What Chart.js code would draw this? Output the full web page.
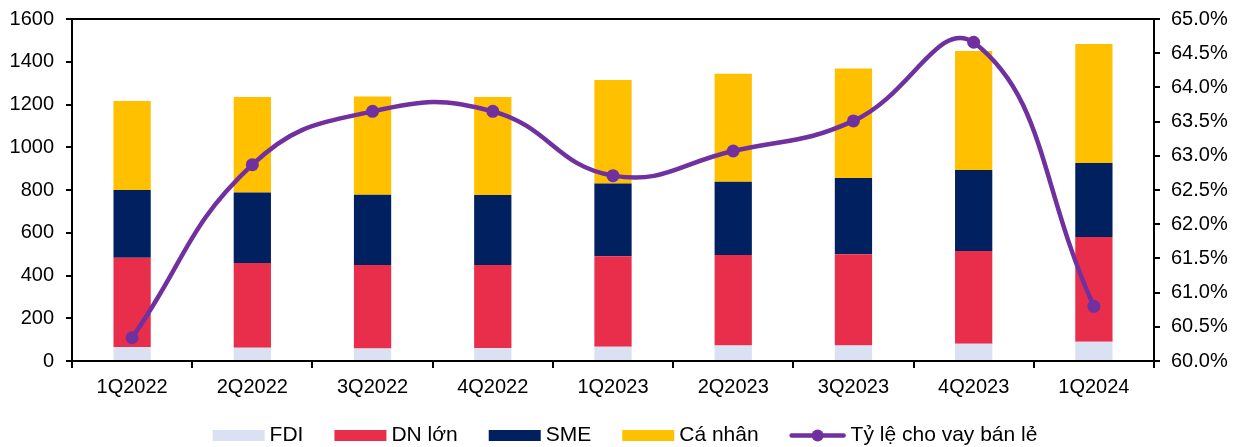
<!DOCTYPE html>
<html>
<head>
<meta charset="utf-8">
<script src="https://cdn.jsdelivr.net/npm/chart.js@4.4.1/dist/chart.umd.min.js"></script>
<style>
  html, body { margin: 0; padding: 0; background: #fff; }
  #wrap { width: 1237px; height: 447px; }
</style>
</head>
<body>
<div id="wrap"><canvas id="chart" width="1237" height="447"></canvas></div>
<script>
// Data
const quarters = ['1Q2022', '2Q2022', '3Q2022', '4Q2022', '1Q2023', '2Q2023', '3Q2023', '4Q2023', '1Q2024'];
const fdi = [65, 62, 59, 61, 67, 73, 73, 81, 90];
const dnLon = [418, 396, 390, 388, 423, 423, 426, 434, 490];
const sme = [317, 330, 329, 328, 340, 343, 357, 379, 346];
const caNhan = [416, 447, 459, 458, 485, 505, 512, 556, 557];
const retailRatio = [60.34, 62.87, 63.65, 63.65, 62.71, 63.07, 63.51, 64.66, 60.80];
const leftTicks = [0, 200, 400, 600, 800, 1000, 1200, 1400, 1600];
const rightTicks = [60, 60.5, 61, 61.5, 62, 62.5, 63, 63.5, 64, 64.5, 65];

const COLORS = ['#D9E1F2', '#E92E4C', '#002060', '#FFC000'];
const LINE_COLOR = '#7030A0';
const FONT = { family: '"Liberation Sans", Arial, sans-serif', size: 20 };
const LEGEND_FONT_SIZE = 21;

// ------------------------------
// Plot box top border and a bottom legend (Excel-like spacing).
const boxAndLegend = {
  id: 'boxAndLegend',
  afterDraw(chart) {
    const a = chart.chartArea, ctx = chart.ctx;
    ctx.save();
    ctx.strokeStyle = '#000';
    ctx.lineWidth = 2;
    ctx.beginPath(); ctx.moveTo(a.left - 1, a.top); ctx.lineTo(a.right + 1, a.top); ctx.stroke();

    // legend
    ctx.font = LEGEND_FONT_SIZE + 'px ' + FONT.family;
    ctx.textBaseline = 'middle';
    ctx.textAlign = 'left';
    const items = chart.data.datasets.map(ds => ({
      text: ds.label,
      color: ds.type === 'line' ? ds.borderColor : ds.backgroundColor,
      line: ds.type === 'line'
    }));
    let total = 0;
    items.forEach((it, i) => {
      it.iw = it.line ? 56 : 52;
      it.tw = ctx.measureText(it.text).width;
      total += it.iw + 5 + it.tw + (i ? 31 : 0);
    });
    let x = 625 - total / 2;
    const y = 435.5;
    items.forEach(it => {
      if (it.line) {
        ctx.strokeStyle = it.color;
        ctx.lineWidth = 4.5;
        ctx.lineCap = 'round';
        ctx.beginPath(); ctx.moveTo(x + 2, y); ctx.lineTo(x + it.iw - 2, y); ctx.stroke();
        ctx.fillStyle = it.color;
        ctx.beginPath(); ctx.arc(x + it.iw / 2, y, 6, 0, Math.PI * 2); ctx.fill();
      } else {
        ctx.fillStyle = it.color;
        ctx.fillRect(x, y - 5.5, it.iw, 11);
      }
      x += it.iw + 5;
      ctx.fillStyle = '#000';
      ctx.fillText(it.text, x, y);
      x += it.tw + 31;
    });
    ctx.restore();
  }
};

function barSet(label, data, color) {
  return {
    type: 'bar', label: label, data: data, backgroundColor: color,
    yAxisID: 'y', stack: 's', order: 1,
    barPercentage: 0.31, categoryPercentage: 1
  };
}

function noEdgePadding(s, w) {
  s.width = w;
  s.paddingTop = 0;
  s.paddingBottom = 0;
}

new Chart(document.getElementById('chart'), {
  data: {
    labels: quarters,
    datasets: [
      barSet('FDI', fdi, COLORS[0]),
      barSet('DN lớn', dnLon, COLORS[1]),
      barSet('SME', sme, COLORS[2]),
      barSet('Cá nhân', caNhan, COLORS[3]),
      {
        type: 'line', label: 'Tỷ lệ cho vay bán lẻ', data: retailRatio,
        yAxisID: 'y1', order: 0,
        borderColor: LINE_COLOR, backgroundColor: LINE_COLOR,
        borderWidth: 4.5, pointRadius: 6.5, pointBackgroundColor: LINE_COLOR,
        pointBorderWidth: 0, tension: 0.45, fill: false
      }
    ]
  },
  options: {
    responsive: false,
    animation: false,
    layout: { padding: { top: 19, left: 0, right: 0, bottom: 48 } },
    plugins: {
      tooltip: { enabled: false },
      legend: { display: false }
    },
    scales: {
      x: {
        stacked: true,
        grid: { offset: true, drawOnChartArea: false, color: '#000', tickLength: 7, lineWidth: 2 },
        border: { color: '#000', width: 2 },
        ticks: { color: '#000', font: FONT, padding: 7 },
        afterFit(s) { s.height = 38; }
      },
      y: {
        stacked: true, position: 'left', min: 0, max: 1600,
        grid: { drawOnChartArea: false, color: '#000', tickLength: 6, lineWidth: 2 },
        border: { color: '#000', width: 2 },
        afterBuildTicks(s) { s.ticks = leftTicks.map(v => ({ value: v })); },
        ticks: { color: '#000', font: FONT, padding: 12, callback: v => String(v) },
        afterFit(s) { noEdgePadding(s, 72); }
      },
      y1: {
        position: 'right', min: 60, max: 65,
        grid: { drawOnChartArea: false, color: '#000', tickLength: 6, lineWidth: 2 },
        border: { color: '#000', width: 2 },
        afterBuildTicks(s) { s.ticks = rightTicks.map(v => ({ value: v })); },
        ticks: { color: '#000', font: FONT, padding: 11,
          callback: v => v.toFixed(1) + '%' },
        afterFit(s) { noEdgePadding(s, 83); }
      }
    }
  },
  plugins: [boxAndLegend]
});
</script>
</body>
</html>
